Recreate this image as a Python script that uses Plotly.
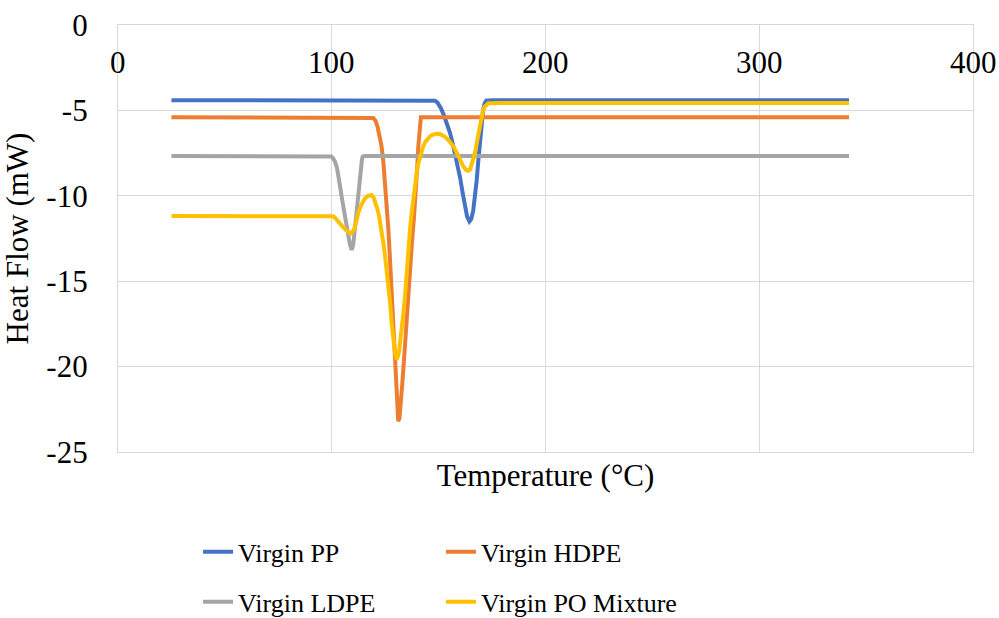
import plotly.graph_objects as go

# DSC heating curves: temperature (°C) vs heat flow (mW)
pp_temp = [25, 100, 146, 148.3, 149.5, 151, 152.5, 154, 155.3, 156.5, 158, 159, 160, 161.2, 162.3,
           163.3, 164.4, 165.3, 166.2, 167, 167.8, 168.6, 169.4, 170.1, 170.8, 171.5, 172.3, 175,
           250, 342]
pp_flow = [-4.4, -4.4, -4.4, -4.43, -4.55, -4.85, -5.3, -5.8, -6.3, -6.9, -7.7, -8.3, -8.9, -9.8,
           -10.6, -11.2, -11.5, -11.35, -10.85, -10.1, -9.1, -7.9, -6.7, -5.74, -5.0, -4.6, -4.43,
           -4.4, -4.4, -4.4]

hdpe_temp = [25, 100, 118.5, 119.4, 120.5, 121.5, 122.5, 123.3, 124.2, 125, 125.8, 126.5, 127.2,
             128, 128.7, 129.4, 130, 130.6, 131.1, 131.7, 132.3, 133, 133.8, 134.6, 135.5, 136.6,
             137.6, 138.5, 139.3, 140, 140.5, 141, 141.4, 141.7, 150, 250, 342]
hdpe_flow = [-5.4, -5.4, -5.4, -5.45, -5.6, -6.0, -6.6, -7.1, -8.1, -9.3, -10.7, -12.0, -13.6,
             -15.5, -17.5, -19.6, -21.3, -22.6, -23.2, -23.0, -22.3, -21.0, -19.6, -18.0, -16.2,
             -14.3, -12.6, -11.2, -10.0, -8.3, -7.1, -6.1, -5.6, -5.4, -5.4, -5.4, -5.4]

ldpe_temp = [25, 99, 99.8, 100.6, 101.5, 102.5, 103.3, 103.9, 104.7, 105.5, 106.3, 107, 107.7,
             108.4, 109.3, 110, 110.6, 111.1, 111.6, 112.1, 112.6, 113.2, 113.7, 114.1, 114.5,
             115.5, 150, 250, 342]
ldpe_flow = [-7.67, -7.67, -7.7, -7.8, -8.0, -8.4, -8.9, -9.46, -10.1, -10.7, -11.2, -11.6, -12.2,
             -12.8, -13.17, -12.9, -12.2, -11.5, -11.0, -10.2, -9.6, -9.0, -8.3, -7.9, -7.7,
             -7.67, -7.67, -7.67, -7.67]

mix_temp = [25, 100, 100.7, 101.6, 102.5, 104, 105.4, 107, 108, 108.8, 109.7, 110.5, 111.5, 112.4,
            114, 115.6, 117, 118.6, 119.6, 120.5, 121.3, 122, 123.3, 124.2, 125, 125.8, 126.5,
            127.3, 128, 128.8, 129.6, 130.3, 131, 131.5, 132.5, 133.5, 134.3, 135, 135.8, 136.6,
            137.3, 138, 139, 139.8, 140.5, 141.6, 142.8, 144, 145, 146.3, 147.5, 149, 150.6, 152,
            153, 155, 156.9, 159, 160.5, 161.6, 162.8, 163.9, 164.8, 165.5, 166.3, 167, 167.8,
            168.5, 169.3, 170.1, 170.8, 171.5, 172.3, 173.3, 180, 250, 342]
mix_flow = [-11.18, -11.18, -11.2, -11.3, -11.45, -11.65, -11.85, -12.05, -12.15, -12.2, -12.1,
            -11.95, -11.5, -11.0, -10.5, -10.15, -10.0, -9.95, -10.1, -10.4, -10.75, -11.1, -12.0,
            -12.8, -13.6, -14.4, -15.3, -16.3, -17.4, -18.4, -19.2, -19.6, -19.4, -19.1, -18.2,
            -16.9, -15.8, -14.5, -13.2, -12.0, -11.1, -10.3, -9.1, -8.6, -8.1, -7.55, -7.1, -6.8,
            -6.62, -6.48, -6.42, -6.37, -6.38, -6.45, -6.55, -6.8, -7.1, -7.6, -8.0, -8.3, -8.48,
            -8.53, -8.45, -8.2, -7.9, -7.5, -6.95, -6.5, -5.95, -5.37, -5.0, -4.78, -4.65, -4.58,
            -4.56, -4.56, -4.56]

series = [
    ("Virgin PP", pp_temp, pp_flow, "#4472C4", "legend"),
    ("Virgin HDPE", hdpe_temp, hdpe_flow, "#ED7D31", "legend"),
    ("Virgin LDPE", ldpe_temp, ldpe_flow, "#A5A5A5", "legend2"),
    ("Virgin PO Mixture", mix_temp, mix_flow, "#FFC000", "legend2"),
]

x_ticks = [0, 100, 200, 300, 400]
y_ticks = [0, -5, -10, -15, -20, -25]
y_tick_text = ["0", "-5", "-10", "-15", "-20", "-25"]

FONT = "Times New Roman, Liberation Serif, serif"
GRID = "#D9D9D9"

fig = go.Figure()
for name, xs, ys, color, leg in series:
    fig.add_trace(go.Scatter(x=xs, y=ys, mode="lines", name=name, legend=leg,
                             line=dict(color=color, width=4)))

# temperature labels sit just under the zero line at the top of the plot
for t in x_ticks:
    fig.add_annotation(x=t, y=0, xref="x", yref="y", text=str(t), showarrow=False,
                       xanchor="center", yanchor="middle", yshift=-37,
                       font=dict(family=FONT, size=31, color="black"))

fig.update_layout(
    width=999, height=618,
    margin=dict(l=118, r=26, t=25, b=166, autoexpand=False),
    paper_bgcolor="white", plot_bgcolor="white",
    font=dict(family=FONT, size=31, color="black"),
    xaxis=dict(range=[0, 400], tickvals=x_ticks, showticklabels=False, showgrid=True,
               gridcolor=GRID, gridwidth=1.3, showline=True, linecolor=GRID, linewidth=1.3,
               mirror=True, zeroline=False, automargin=False,
               title=dict(text="Temperature (°C)", standoff=12,
                          font=dict(size=31, color="black"))),
    yaxis=dict(range=[-25, 0], tickvals=y_ticks, ticktext=y_tick_text, showgrid=True,
               gridcolor=GRID, gridwidth=1.3, showline=True, linecolor=GRID, linewidth=1.3,
               mirror=True, zeroline=False, automargin=False, ticks="",
               ticklabelstandoff=23, tickfont=dict(size=31, color="black"),
               title=dict(text="Heat Flow (mW)", standoff=8,
                          font=dict(size=31, color="black"))),
    legend=dict(orientation="h", x=0.0936, xanchor="left", y=-0.234, yanchor="middle",
                entrywidth=198, font=dict(size=26, color="black"), bgcolor="rgba(0,0,0,0)"),
    legend2=dict(orientation="h", x=0.0936, xanchor="left", y=-0.351, yanchor="middle",
                 entrywidth=198, font=dict(size=26, color="black"), bgcolor="rgba(0,0,0,0)"),
    showlegend=True,
)

fig.write_html("out.html")
